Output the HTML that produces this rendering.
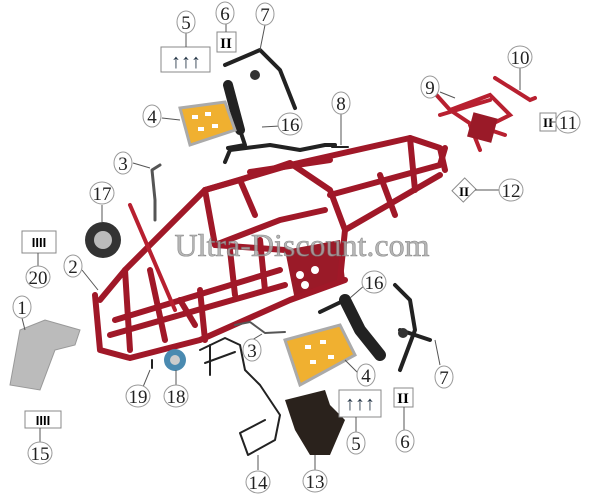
<!DOCTYPE html>
<html><head><meta charset="utf-8"><style>
html,body{margin:0;padding:0;background:#fff;}
svg{display:block}
.n{font-family:"Liberation Serif",serif;font-size:19px;fill:#222;text-anchor:middle}
.c{fill:#fff;stroke:#999;stroke-width:1}
.l{stroke:#555;stroke-width:1;fill:none}
.r{stroke:#a01828;stroke-width:6;fill:none;stroke-linecap:round;stroke-linejoin:round}
.r2{stroke:#b82030;stroke-width:4;fill:none;stroke-linecap:round}
.k{stroke:#222;stroke-width:4;fill:none;stroke-linecap:round;stroke-linejoin:round}
.k2{stroke:#222;stroke-width:2;fill:none;stroke-linecap:round;stroke-linejoin:round}
.box{fill:#fff;stroke:#888;stroke-width:1}
</style></head><body>
<svg width="600" height="496" viewBox="0 0 600 496">
<!-- frame -->
<g>
<path d="M285,250 L340,240 L345,280 L295,300 Z" fill="#9a1a28"/>
<path class="r" d="M100,300 L125,270 L205,190 L290,165 L410,138 L440,148 L445,170"/>
<path class="r" d="M95,295 L100,350 L130,358 L200,340 L290,300 L345,280"/>
<path class="r" d="M110,335 L285,285"/>
<path class="r" d="M115,320 L280,270"/>
<path class="r" d="M125,270 L130,350"/>
<path class="r" d="M205,190 L215,245 L280,220 L325,210"/>
<path class="r" d="M205,190 L240,180 L290,163 L330,190 L345,230 L340,280"/>
<path class="r" d="M240,180 L255,215"/>
<path class="r" d="M250,172 L330,160"/>
<path class="r" d="M215,245 L285,250"/>
<path class="r" d="M330,195 L440,165 L445,148"/>
<path class="r" d="M345,230 L440,175"/>
<path class="r" d="M380,175 L395,215 M410,138 L415,190"/>
<path class="r" d="M150,270 L165,340 M180,300 L195,325 M230,250 L235,295 M260,240 L265,290"/>
<path class="r2" d="M130,205 L175,310"/>
<path class="r" d="M200,290 L205,340"/>
<circle cx="300" cy="275" r="4" fill="#fff"/><circle cx="315" cy="270" r="4" fill="#fff"/><circle cx="305" cy="285" r="4" fill="#fff"/>
</g>
<!-- rear rack 9 / 10 -->
<path class="r2" d="M432,90 L450,110 L490,95 L510,115 L480,130 L450,110 M440,115 L490,100 M470,125 L480,150 M490,130 L505,135" />
<rect x="470" y="115" width="25" height="25" fill="#9a1a28" transform="rotate(15 482 127)"/>
<path class="r2" d="M495,78 L530,100 L535,98"/>
<!-- parts black -->
<path class="k" d="M225,65 L260,50 L280,70 L295,108"/>
<circle cx="255" cy="75" r="5" fill="#333"/>
<path class="k" d="M228,85 L240,130" style="stroke-width:10"/>
<path class="k" d="M240,130 L245,145 L228,148"/>
<path class="k" d="M225,162 L230,150 L270,145 L300,150 L325,145 L335,145"/>
<path class="k2" d="M332,147 L348,147"/>
<!-- 4 top footrest -->
<path d="M180,108 L225,102 L235,130 L190,145 Z" fill="#f0b030" stroke="#aaa" stroke-width="3"/>
<g fill="#fff"><rect x="192" y="115" width="6" height="4"/><rect x="205" y="112" width="6" height="4"/><rect x="198" y="127" width="6" height="4"/><rect x="212" y="124" width="6" height="4"/></g>
<!-- 3 -->
<path class="k2" d="M160,165 L152,170 L155,200 L155,220" style="stroke:#555;stroke-width:3"/>
<!-- 17 -->
<circle cx="103" cy="240" r="18" fill="#333"/><circle cx="103" cy="240" r="9" fill="#bbb"/>
<!-- 1 -->
<path d="M10,385 L20,330 L45,320 L80,330 L75,345 L55,350 L40,390 Z" fill="#bbb" stroke="#999"/>
<!-- 18 -->
<circle cx="175" cy="360" r="11" fill="#4a8ab0"/><circle cx="175" cy="360" r="5" fill="#ccc"/>
<path class="k2" d="M152,360 L152,368"/>
<!-- 14 -->
<path class="k2" d="M200,350 L225,338 L240,345 L245,370 L260,385 L280,415 L275,440 L248,455 L240,433 L265,420"/>
<path class="k2" d="M205,363 L235,352 M210,345 L210,375"/>
<!-- 13 -->
<path d="M285,400 L325,390 L330,405 L345,420 L330,455 L310,455 L295,430 Z" fill="#2a221c"/>
<!-- 3b -->
<path class="k2" d="M235,325 L250,322 L265,333 L285,332" style="stroke:#555"/>
<!-- 4b -->
<path d="M285,340 L340,325 L355,355 L300,385 Z" fill="#f0b030" stroke="#aaa" stroke-width="3"/>
<g fill="#fff"><rect x="305" y="345" width="6" height="4"/><rect x="320" y="340" width="6" height="4"/><rect x="310" y="360" width="6" height="4"/><rect x="328" y="355" width="6" height="4"/></g>
<!-- 16b -->
<path class="k" d="M345,300 L360,330 L380,355" style="stroke-width:12"/>
<path class="k" d="M320,312 L345,300"/>
<!-- 7b -->
<path class="k" d="M395,285 L410,300 L415,330 L400,370 M400,330 L430,340"/>
<circle cx="403" cy="333" r="5" fill="#333"/>
<!-- boxes -->
<rect x="161" y="47" width="49" height="25" class="box"/>
<text x="186" y="68" style="font:bold 20px 'Liberation Sans';fill:#234" text-anchor="middle">↑↑↑</text>
<rect x="217" y="32" width="19" height="20" class="box"/>
<text x="226" y="48" style="font:bold 15px 'Liberation Serif'" text-anchor="middle">II</text>
<rect x="540" y="113" width="16" height="18" class="box"/>
<text x="548" y="127" style="font:bold 13px 'Liberation Serif'" text-anchor="middle">II</text>
<rect x="456" y="181" width="16" height="18" class="box" transform="rotate(45 464 190)"/>
<text x="464" y="196" style="font:bold 13px 'Liberation Serif'" text-anchor="middle">II</text>
<rect x="22" y="231" width="34" height="22" class="box"/>
<text x="39" y="247" style="font:bold 13px 'Liberation Sans'" text-anchor="middle">IIII</text>
<rect x="25" y="411" width="36" height="17" class="box"/>
<text x="43" y="425" style="font:bold 13px 'Liberation Sans'" text-anchor="middle">IIII</text>
<rect x="339" y="390" width="42" height="27" class="box"/>
<text x="360" y="410" style="font:bold 20px 'Liberation Sans';fill:#234" text-anchor="middle">↑↑↑</text>
<rect x="394" y="388" width="19" height="19" class="box"/>
<text x="403" y="403" style="font:bold 15px 'Liberation Serif'" text-anchor="middle">II</text>
<!-- leader lines -->
<path class="l" d="M186,33 L186,47 M226,24 L226,32 M265,25 L260,50 M440,92 L455,98 M520,68 L520,90 M557,122 L550,122 M341,114 L341,145 M162,118 L180,120 M280,126 L262,127 M133,163 L150,168 M102,205 L102,222 M500,190 L475,190 M38,267 L38,253 M82,270 L98,290 M365,285 L350,298 M22,318 L25,330 M252,340 L262,334 M440,365 L435,340 M360,375 L345,360 M143,387 L150,370 M176,385 L176,370 M40,442 L40,428 M356,432 L356,417 M404,430 L404,407 M258,470 L258,455 M315,470 L315,455"/>
<!-- watermark -->
<text x="302" y="256" style="font:32px 'Liberation Serif';fill:#aaa;stroke:#777;stroke-width:0.6" text-anchor="middle" opacity="0.85">Ultra-Discount.com</text>
<!-- labels -->
<g>
<ellipse class="c" cx="186" cy="22" rx="9" ry="11"/><text class="n" x="186" y="29">5</text>
<ellipse class="c" cx="225" cy="13" rx="9" ry="11"/><text class="n" x="225" y="20">6</text>
<ellipse class="c" cx="265" cy="14" rx="9" ry="11"/><text class="n" x="265" y="21">7</text>
<ellipse class="c" cx="520" cy="57" rx="12" ry="11"/><text class="n" x="520" y="64">10</text>
<ellipse class="c" cx="430" cy="87" rx="9" ry="11"/><text class="n" x="430" y="94">9</text>
<ellipse class="c" cx="568" cy="122" rx="12" ry="11"/><text class="n" x="568" y="129">11</text>
<ellipse class="c" cx="341" cy="103" rx="9" ry="11"/><text class="n" x="341" y="110">8</text>
<ellipse class="c" cx="152" cy="116" rx="9" ry="11"/><text class="n" x="152" y="123">4</text>
<ellipse class="c" cx="290" cy="124" rx="12" ry="11"/><text class="n" x="290" y="131">16</text>
<ellipse class="c" cx="123" cy="163" rx="9" ry="11"/><text class="n" x="123" y="170">3</text>
<ellipse class="c" cx="102" cy="193" rx="12" ry="11"/><text class="n" x="102" y="200">17</text>
<ellipse class="c" cx="511" cy="190" rx="12" ry="11"/><text class="n" x="511" y="197">12</text>
<ellipse class="c" cx="38" cy="277" rx="12" ry="11"/><text class="n" x="38" y="284">20</text>
<ellipse class="c" cx="73" cy="266" rx="9" ry="11"/><text class="n" x="73" y="273">2</text>
<ellipse class="c" cx="374" cy="282" rx="12" ry="11"/><text class="n" x="374" y="289">16</text>
<ellipse class="c" cx="22" cy="307" rx="9" ry="11"/><text class="n" x="22" y="314">1</text>
<ellipse class="c" cx="252" cy="350" rx="9" ry="11"/><text class="n" x="252" y="357">3</text>
<ellipse class="c" cx="444" cy="377" rx="9" ry="11"/><text class="n" x="444" y="384">7</text>
<ellipse class="c" cx="366" cy="375" rx="9" ry="11"/><text class="n" x="366" y="382">4</text>
<ellipse class="c" cx="138" cy="396" rx="12" ry="11"/><text class="n" x="138" y="403">19</text>
<ellipse class="c" cx="176" cy="396" rx="12" ry="11"/><text class="n" x="176" y="403">18</text>
<ellipse class="c" cx="40" cy="453" rx="12" ry="11"/><text class="n" x="40" y="460">15</text>
<ellipse class="c" cx="356" cy="443" rx="9" ry="11"/><text class="n" x="356" y="450">5</text>
<ellipse class="c" cx="405" cy="441" rx="9" ry="11"/><text class="n" x="405" y="448">6</text>
<ellipse class="c" cx="258" cy="482" rx="12" ry="11"/><text class="n" x="258" y="489">14</text>
<ellipse class="c" cx="315" cy="481" rx="12" ry="11"/><text class="n" x="315" y="488">13</text>
</g>
</svg>
</body></html>
